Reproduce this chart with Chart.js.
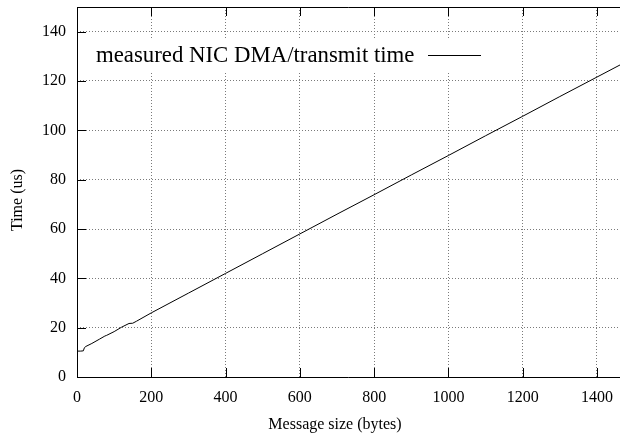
<!DOCTYPE html>
<html>
<head>
<meta charset="utf-8">
<script src="https://cdn.jsdelivr.net/npm/chart.js@4/dist/chart.umd.min.js"></script>
<style>
  html, body { margin: 0; padding: 0; background: #fff; }
  #wrap { width: 620px; height: 438px; }
</style>
</head>
<body>
<div id="wrap"><canvas id="c" width="620" height="438"></canvas></div>
<script>
// ---- data ----
const seriesLabel = 'measured NIC DMA/transmit time';
const messageSizes = [0, 10, 17, 20, 24, 40, 60, 75, 80, 100, 120, 140, 150, 160, 200, 300, 400, 500, 600, 700, 800, 900, 1000, 1100, 1200, 1300, 1400, 1462];
const times        = [10.5, 10.5, 10.6, 11.9, 12.4, 13.6, 15.3, 16.6, 16.9, 18.4, 20.2, 21.7, 21.8, 22.6, 26.0, 34.0, 42.0, 50.0, 58.0, 66.0, 73.9, 81.9, 89.8, 97.8, 105.7, 113.7, 121.6, 126.5];
const xTickValues  = [0, 200, 400, 600, 800, 1000, 1200, 1400];
const yTickValues  = [0, 20, 40, 60, 80, 100, 120, 140];
const xTitle = 'Message size (bytes)';
const yTitle = 'Time (us)';
const xMax = 1462;
const yMax = 150;

const FONT = '"Liberation Serif", "Times New Roman", serif';

const framePlugin = {
  id: 'frame',
  beforeDatasetsDraw(chart) {
    const ctx = chart.ctx;
    ctx.save();
    ctx.fillStyle = '#fff';
    ctx.fillRect(90, 40, 400, 31);
    ctx.restore();
  },
  afterDraw(chart) {
    const ctx = chart.ctx;
    const a = chart.chartArea;
    const xs = chart.scales.x, ys = chart.scales.y;
    ctx.save();
    ctx.strokeStyle = '#000';
    ctx.lineWidth = 1;
    ctx.beginPath();
    ctx.moveTo(a.left + 0.5, a.top + 0.5);
    ctx.lineTo(a.left + 0.5, a.bottom + 0.5);
    ctx.lineTo(a.right, a.bottom + 0.5);
    ctx.moveTo(a.left + 0.5, a.top + 0.5);
    ctx.lineTo(a.right, a.top + 0.5);
    ctx.stroke();
    const TL = 9;
    ctx.beginPath();
    xTickValues.forEach(v => {
      const px = Math.round(xs.getPixelForValue(v)) + 0.5;
      ctx.moveTo(px, a.bottom); ctx.lineTo(px, a.bottom - TL);
      ctx.moveTo(px, a.top); ctx.lineTo(px, a.top + TL);
    });
    yTickValues.forEach(v => {
      const py = Math.round(ys.getPixelForValue(v)) + 0.5;
      ctx.moveTo(a.left, py); ctx.lineTo(a.left + TL, py);
    });
    ctx.stroke();

    ctx.fillStyle = '#000';
    ctx.font = '22.8px ' + FONT;
    ctx.textAlign = 'left';
    ctx.textBaseline = 'middle';
    ctx.fillText(seriesLabel, 96, 56);
    ctx.beginPath();
    ctx.moveTo(428, 55.5);
    ctx.lineTo(481, 55.5);
    ctx.stroke();

    ctx.font = '16px ' + FONT;
    ctx.textAlign = 'center';
    ctx.fillText(xTitle, 335, 425);
    ctx.translate(18, 200);
    ctx.rotate(-Math.PI / 2);
    ctx.fillText(yTitle, 0, 0);
    ctx.restore();
  }
};

new Chart(document.getElementById('c'), {
  type: 'scatter',
  data: {
    datasets: [{
      label: seriesLabel,
      data: messageSizes.map((x, i) => ({ x: x, y: times[i] })),
      showLine: true,
      borderColor: '#000',
      borderWidth: 1,
      pointRadius: 0,
      tension: 0,
      fill: false
    }]
  },
  options: {
    responsive: false,
    animation: false,
    devicePixelRatio: 1,
    layout: { padding: { top: 7, right: 0, left: 0, bottom: 0 } },
    plugins: { legend: { display: false }, tooltip: { enabled: false } },
    scales: {
      x: {
        type: 'linear',
        min: 0, max: xMax,
        afterBuildTicks: s => { s.ticks = xTickValues.map(v => ({ value: v })); },
        afterFit: s => { s.height = 61; s.paddingLeft = 0; s.paddingRight = 0; },
        grid: { color: '#7a7a7a', lineWidth: 1, drawTicks: false },
        border: { display: false, dash: [1, 2] },
        ticks: { color: '#000', padding: 11, maxRotation: 0, font: { family: FONT, size: 16 }, callback: v => String(v) }
      },
      y: {
        type: 'linear',
        min: 0, max: yMax,
        afterBuildTicks: s => { s.ticks = yTickValues.map(v => ({ value: v })); },
        afterFit: s => { s.width = 77; s.paddingTop = 0; s.paddingBottom = 0; },
        grid: { color: '#7a7a7a', lineWidth: 1, drawTicks: false },
        border: { display: false, dash: [1, 2] },
        ticks: { color: '#000', padding: 11, font: { family: FONT, size: 16 }, callback: v => String(v) }
      }
    }
  },
  plugins: [framePlugin]
});
</script>
</body>
</html>
